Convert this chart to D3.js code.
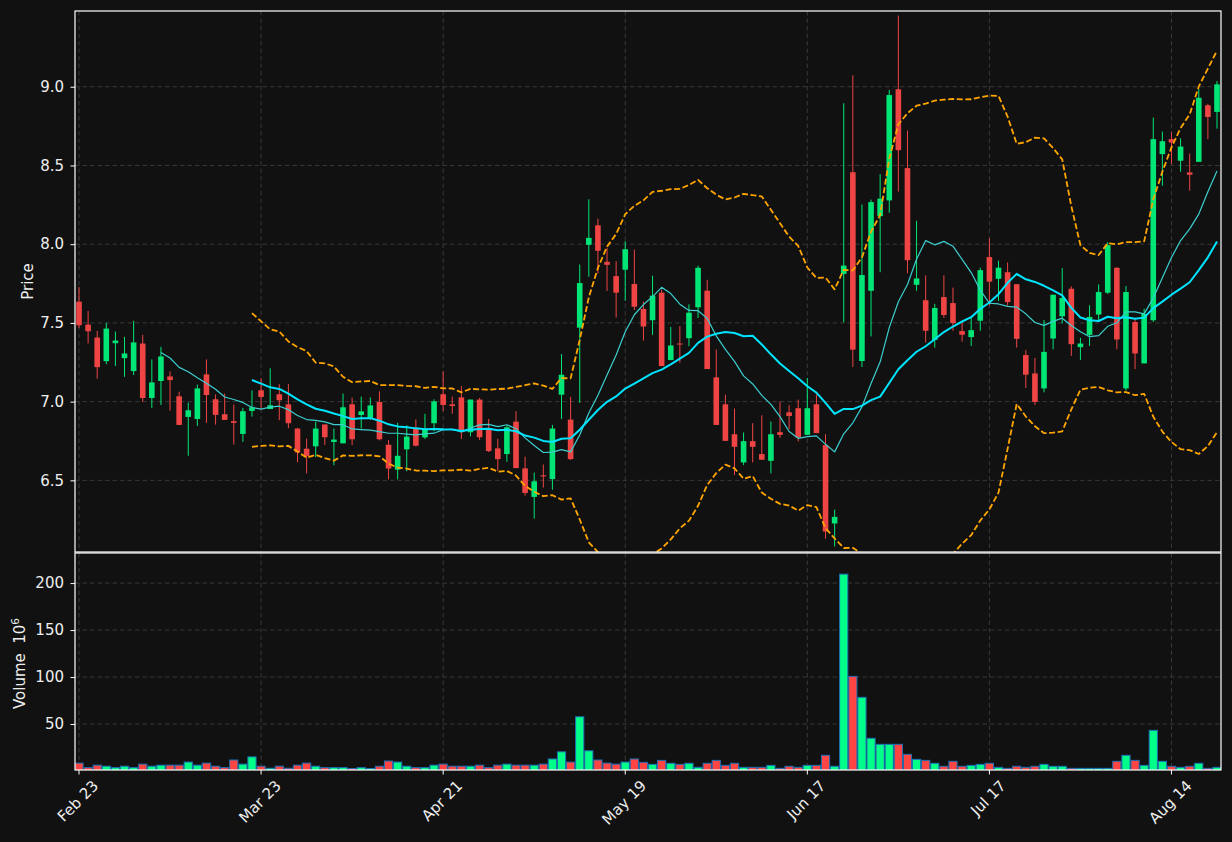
<!DOCTYPE html>
<html><head><meta charset="utf-8">
<script src="https://cdn.jsdelivr.net/npm/d3@7"></script>
<style>
body{margin:0;background:#111111;}
svg{display:block;font-family:"DejaVu Sans",sans-serif;}
</style>
</head><body>
<svg id="chart" width="1232" height="842"></svg>
<script>
// ---------------- data ----------------
const tickLabels = ["Feb 23","Mar 23","Apr 21","May 19","Jun 17","Jul 17","Aug 14"];
const tickIndex  = [0,20,40,60,80,100,120];
const priceTicks = [6.5,7.0,7.5,8.0,8.5,9.0];
const volumeTicks = [50,100,150,200];

const open = [7.635,7.489,7.407,7.257,7.371,7.276,7.194,7.369,7.023,7.131,
7.160,7.034,6.903,6.890,7.173,7.015,6.920,6.876,6.795,6.941,
7.072,6.953,7.047,6.983,6.829,6.701,6.716,6.855,6.744,6.735,
6.983,6.915,6.897,6.998,6.726,6.568,6.697,6.833,6.773,6.863,
7.047,6.983,7.027,6.806,7.013,6.833,6.703,6.667,6.873,6.576,
6.395,6.532,6.508,7.044,6.886,7.470,7.996,8.120,7.888,7.797,
7.838,7.747,7.589,7.517,7.692,7.264,7.369,7.403,7.599,7.705,
7.154,6.983,6.793,6.614,6.749,6.667,6.624,6.806,6.932,6.958,
6.789,6.983,6.724,6.226,7.811,8.457,7.258,7.704,8.178,8.278,
8.984,8.483,7.742,7.644,7.392,7.664,7.626,7.448,7.410,7.514,
7.918,7.780,7.822,7.746,7.296,7.179,7.084,7.401,7.542,7.717,
7.346,7.424,7.553,7.692,7.850,7.084,7.506,7.243,7.517,8.572,
8.667,8.530,8.456,8.523,8.882,8.840];
const high = [7.728,7.576,7.449,7.500,7.445,7.411,7.513,7.424,7.268,7.348,
7.192,7.063,6.994,7.108,7.268,7.046,7.051,6.981,6.960,7.072,
7.148,7.212,7.111,7.111,6.833,6.765,6.872,6.855,6.829,7.051,
7.026,7.032,7.026,7.066,6.756,6.865,6.850,6.887,6.923,7.015,
7.192,7.032,7.099,7.013,7.023,6.890,6.764,6.848,6.939,6.650,
6.549,6.601,6.852,7.302,7.030,7.871,8.285,8.162,7.977,7.892,
8.019,7.966,7.635,7.800,7.711,7.475,7.479,7.618,7.863,7.774,
7.331,7.044,6.956,6.804,6.863,6.913,6.873,7.000,6.977,7.013,
7.150,7.046,6.793,6.314,8.895,9.073,8.252,8.283,8.445,8.980,
9.452,8.722,8.149,7.802,7.621,7.802,7.724,7.503,7.532,7.851,
8.038,7.895,7.884,7.746,7.327,7.278,7.519,7.679,7.848,7.732,
7.405,7.612,7.745,8.013,7.854,7.734,7.532,7.591,8.804,8.715,
8.713,8.673,8.576,8.987,8.892,9.036];
const low = [7.468,7.369,7.146,7.238,7.226,7.158,7.169,6.998,6.960,6.979,
6.943,6.852,6.656,6.846,6.865,6.854,6.884,6.728,6.745,6.905,
6.951,6.953,6.882,6.831,6.615,6.545,6.647,6.724,6.596,6.735,
6.724,6.829,6.885,6.754,6.506,6.506,6.558,6.716,6.763,6.812,
6.940,6.923,6.762,6.779,6.757,6.679,6.561,6.618,6.578,6.403,
6.257,6.454,6.441,6.890,6.629,6.992,7.793,7.814,7.703,7.534,
7.641,7.582,7.388,7.424,7.226,7.264,7.247,7.352,7.532,7.207,
6.852,6.751,6.534,6.597,6.614,6.631,6.544,6.770,6.825,6.747,
6.789,6.800,6.129,6.080,7.503,7.220,7.220,7.414,7.822,8.200,
8.334,7.815,7.704,7.376,7.343,7.532,7.450,7.381,7.354,7.450,
7.610,7.639,7.610,7.343,7.087,6.979,7.059,7.333,7.496,7.291,
7.264,7.354,7.506,7.684,7.333,7.070,7.207,7.243,7.506,8.371,
8.508,8.460,8.340,8.523,8.667,8.734];
const close = [7.485,7.447,7.219,7.464,7.388,7.306,7.376,7.023,7.122,7.287,
7.137,6.852,6.945,7.084,7.042,6.916,6.884,6.865,6.939,6.964,
7.030,6.977,7.009,6.863,6.677,6.654,6.829,6.774,6.759,6.964,
6.761,6.938,6.976,6.761,6.575,6.656,6.778,6.720,6.827,7.002,
6.979,6.972,6.806,7.013,6.774,6.686,6.635,6.837,6.578,6.420,
6.494,6.525,6.829,7.171,6.635,7.753,8.040,7.958,7.869,7.692,
7.968,7.603,7.477,7.673,7.226,7.357,7.364,7.565,7.850,7.207,
6.852,6.751,6.713,6.749,6.713,6.631,6.793,6.789,6.909,6.772,
6.958,6.800,6.175,6.268,7.864,7.330,7.804,8.267,8.289,8.947,
8.597,7.898,7.782,7.450,7.595,7.550,7.499,7.425,7.454,7.835,
7.762,7.851,7.632,7.399,7.171,6.998,7.316,7.679,7.658,7.365,
7.369,7.538,7.696,7.994,7.395,7.696,7.306,7.557,8.667,8.654,
8.646,8.620,8.441,8.930,8.808,9.015];
const volume = [8.4,3.6,6.2,5.1,3.6,5.1,3.6,7.3,5.1,6.2,
6.2,6.2,9.5,6.2,8.4,5.1,3.6,11.7,7.3,15.0,
5.1,2.9,5.1,2.9,6.2,8.4,5.1,3.6,3.6,3.6,
2.6,3.6,2.6,5.1,10.6,9.5,5.1,3.6,3.6,6.2,
7.3,5.1,5.1,5.1,6.2,3.6,6.2,7.3,6.2,6.2,
6.2,7.3,12.8,20.4,9.5,57.7,21.5,11.7,8.4,7.3,
9.5,12.8,9.2,7.1,11.3,8.2,7.1,8.2,3.9,8.2,
11.3,6.0,8.2,3.9,3.9,3.9,6.0,2.8,5.0,3.9,
6.0,6.0,16.7,5.0,209.5,100.7,78.4,34.8,28.4,28.4,
28.4,17.7,12.4,11.3,8.2,5.0,10.3,5.0,6.0,7.1,
8.2,3.9,2.8,5.0,3.9,5.0,7.1,5.0,5.0,2.8,
2.8,2.8,2.8,2.8,10.3,16.7,11.3,6.0,43.3,10.3,
5.0,3.9,5.0,8.2,2.8,3.9];

const maShort = 10, maLong = 20, bbK = 2;
const priceRange = [6.045, 9.481];
const volumeMax = 232;

// ---------------- indicators ----------------
function sma(a, n){ return a.map((v,i)=> i < n-1 ? null : d3.mean(a.slice(i-n+1,i+1))); }
function rstd(a, n){ return a.map((v,i)=>{ if(i<n-1) return null; const s=a.slice(i-n+1,i+1); const m=d3.mean(s); return Math.sqrt(d3.mean(s.map(x=>(x-m)*(x-m)))); }); }
const ma10 = sma(close, maShort);
const ma20 = sma(close, maLong);
const sd20 = rstd(close, maLong);
const upper = ma20.map((m,i)=> m==null?null:m+bbK*sd20[i]);
const lower = ma20.map((m,i)=> m==null?null:m-bbK*sd20[i]);

// ---------------- layout ----------------
const L=75, R=1221, T1=11, B1=552, T2=553, B2=770;
const FS = 15;
const n = close.length;
const svg = d3.select("#chart");
svg.append("rect").attr("width",1232).attr("height",842).attr("fill","#111111");

const x = d3.scaleLinear().domain([-0.44, n-1+0.44]).range([L,R]);
const y = d3.scaleLinear().domain(priceRange).range([B1,T1]);
const yv = d3.scaleLinear().domain([0, volumeMax]).range([771, T2]);

const defs = svg.append("defs");
defs.append("clipPath").attr("id","clipP").append("rect").attr("x",L).attr("y",T1).attr("width",R-L).attr("height",B1-T1);
defs.append("clipPath").attr("id","clipV").append("rect").attr("x",L).attr("y",T2).attr("width",R-L).attr("height",B2-T2);

const gridColor = "#3c3c3c", gridDash = "4.5,3";
const gGrid = svg.append("g");
priceTicks.forEach(t=> gGrid.append("line").attr("x1",L).attr("x2",R).attr("y1",y(t)).attr("y2",y(t))
  .attr("stroke",gridColor).attr("stroke-width",0.9).attr("stroke-dasharray",gridDash));
volumeTicks.forEach(t=> gGrid.append("line").attr("x1",L).attr("x2",R).attr("y1",yv(t)).attr("y2",yv(t))
  .attr("stroke",gridColor).attr("stroke-width",0.9).attr("stroke-dasharray",gridDash));
tickIndex.forEach(t=>{
  [[T1,B1],[T2,B2]].forEach(([a,b])=> gGrid.append("line").attr("x1",x(t)).attr("x2",x(t)).attr("y1",a).attr("y2",b)
  .attr("stroke",gridColor).attr("stroke-width",0.9).attr("stroke-dasharray",gridDash));
});

const upC="#00e676", dnC="#ef4444", vUp="#00ff88", vDn="#ff4444";
const idx = d3.range(n);

// candles
const gC = svg.append("g").attr("clip-path","url(#clipP)");
gC.selectAll("line.w").data(idx).join("line")
  .attr("x1",i=>x(i)).attr("x2",i=>x(i)).attr("y1",i=>y(high[i])).attr("y2",i=>y(low[i]))
  .attr("stroke",i=>close[i]>=open[i]?upC:dnC).attr("stroke-width",1);
const bw = 5.6;
gC.selectAll("rect.b").data(idx).join("rect")
  .attr("x",i=>x(i)-bw/2).attr("width",bw)
  .attr("y",i=>y(Math.max(open[i],close[i])))
  .attr("height",i=>Math.max(1,Math.abs(y(open[i])-y(close[i]))))
  .attr("fill",i=>close[i]>=open[i]?upC:dnC);

// lines
function drawLine(arr, color, w, dash){
  const ln = d3.line().defined(d=>d[1]!=null).x(d=>x(d[0])).y(d=>y(d[1]));
  gC.append("path").datum(arr.map((v,i)=>[i,v])).attr("d",ln).attr("fill","none")
    .attr("stroke",color).attr("stroke-width",w).attr("stroke-dasharray",dash||null).attr("stroke-linejoin","round");
}
drawLine(upper,"#ffa500",1.8,"6,2.6");
drawLine(lower,"#ffa500",1.8,"6,2.6");
drawLine(ma10,"#3ccfd0",1.2);
drawLine(ma20,"#00e5ff",2.0);

// volume
const gV = svg.append("g").attr("clip-path","url(#clipV)");
const vw = 8.2;
gV.selectAll("rect").data(idx).join("rect")
  .attr("x",i=>x(i)-vw/2).attr("width",vw)
  .attr("y",i=>yv(volume[i])).attr("height",i=>yv(0)-yv(volume[i]))
  .attr("fill",i=>close[i]>=open[i]?vUp:vDn)
  .attr("stroke","#1f6fb4").attr("stroke-width",1);

// frames
svg.append("rect").attr("x",L).attr("y",T1).attr("width",R-L).attr("height",B1-T1).attr("fill","none").attr("stroke","#ffffff").attr("stroke-width",1.2);
svg.append("rect").attr("x",L).attr("y",T2).attr("width",R-L).attr("height",B2-T2).attr("fill","none").attr("stroke","#ffffff").attr("stroke-width",1.2);

// axes
const txtC = "#eeeeee";
const ayP = d3.axisLeft(y).tickValues(priceTicks).tickFormat(d3.format(".1f")).tickSize(4.5).tickPadding(6.5);
const gAP = svg.append("g").attr("transform",`translate(${L},0)`).call(ayP);
const ayV = d3.axisLeft(yv).tickValues(volumeTicks).tickFormat(d3.format("d")).tickSize(4.5).tickPadding(6.5);
const gAV = svg.append("g").attr("transform",`translate(${L},0)`).call(ayV);
[gAP,gAV].forEach(g=>{
  g.select(".domain").remove();
  g.selectAll(".tick line").attr("stroke","#ffffff").attr("stroke-width",1);
  g.selectAll(".tick text").attr("fill",txtC).attr("font-size",FS).attr("font-family","DejaVu Sans");
});

// x ticks
const gX = svg.append("g");
tickIndex.forEach((t,k)=>{
  gX.append("line").attr("x1",x(t)).attr("x2",x(t)).attr("y1",B2).attr("y2",B2+4.5).attr("stroke","#ffffff").attr("stroke-width",1);
  const tx = gX.append("text").text(tickLabels[k]).attr("font-size",FS).attr("fill",txtC)
    .attr("text-anchor","middle").attr("dominant-baseline","central");
  const w = tx.node().getComputedTextLength();
  const half = (w + FS) * Math.SQRT1_2 / 2;
  tx.attr("transform",`translate(${x(t)-1},${B2 + 8 + half}) rotate(-45)`);
});

// axis labels
svg.append("text").text("Price").attr("font-size",FS).attr("fill",txtC).attr("text-anchor","middle")
  .attr("transform",`translate(33,${(T1+B1)/2}) rotate(-90)`);
const vl = svg.append("text").attr("font-size",FS).attr("fill",txtC).attr("text-anchor","middle")
  .attr("transform",`translate(25,${(T2+B2)/2 + 2}) rotate(-90)`);
vl.append("tspan").text("Volume\u00a0\u00a010");
vl.append("tspan").text("6").attr("font-size",10.5).attr("dy",-6);
</script>
</body></html>
